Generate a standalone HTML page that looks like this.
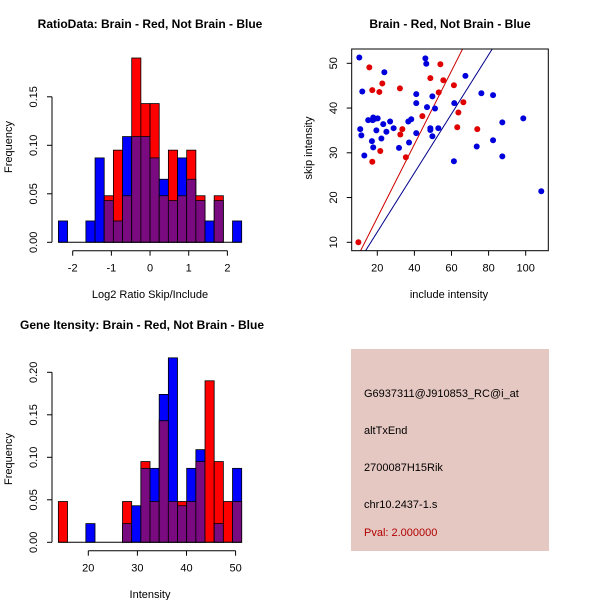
<!DOCTYPE html>
<html><head><meta charset="utf-8"><style>
html,body{margin:0;padding:0;background:#fff;}
svg text{font-family:"Liberation Sans",sans-serif;}
</style></head><body>
<svg id="s" width="600" height="600" xmlns="http://www.w3.org/2000/svg">
<rect x="0" y="0" width="600" height="600" fill="#fff"/>
<text x="150" y="28" font-size="12" font-weight="bold" text-anchor="middle">RatioData: Brain - Red, Not Brain - Blue</text>
<text x="450" y="28" font-size="12" font-weight="bold" text-anchor="middle">Brain - Red, Not Brain - Blue</text>
<text x="142" y="329" font-size="12" font-weight="bold" text-anchor="middle">Gene Itensity: Brain - Red, Not Brain - Blue</text>
<text x="150" y="298" font-size="11" text-anchor="middle">Log2 Ratio Skip/Include</text>
<text x="150" y="598" font-size="11" text-anchor="middle">Intensity</text>
<text x="449" y="298" font-size="11" text-anchor="middle">include intensity</text>
<text transform="translate(12,147) rotate(-90)" font-size="11" text-anchor="middle">Frequency</text>
<text transform="translate(12,459) rotate(-90)" font-size="11" text-anchor="middle">Frequency</text>
<text transform="translate(312,148) rotate(-90)" font-size="11" text-anchor="middle">skip intensity</text>
<g>
<rect x="351" y="349" width="198" height="202" fill="#e6c8c2"/>
<text x="364" y="397" font-size="11">G6937311@J910853_RC@i_at</text>
<text x="364" y="434" font-size="11">altTxEnd</text>
<text x="364" y="471" font-size="11">2700087H15Rik</text>
<text x="364" y="508" font-size="11">chr10.2437-1.s</text>
<text x="364" y="536" font-size="11" fill="#b00000">Pval: 2.000000</text>
</g>
</svg>
<script>
// Ratio histogram data
const ratioBinStart = -2.37;
const ratioBinWidth = 0.237;
const ratioRed  = [0,0,0,0,0,0.048,0.095,0.048,0.19,0.143,0.143,0.048,0.095,0.048,0.095,0.048,0,0.048,0,0];
const ratioBlue = [0.022,0,0,0.022,0.087,0.043,0.022,0.109,0.109,0.109,0.087,0.065,0.043,0.087,0.065,0.043,0.022,0.043,0,0.022];
const ratioXTicks = [-2,-1,0,1,2];
const ratioYTicks = [0,0.05,0.10,0.15];
const ratioYLabels = ["0.00","0.05","0.10","0.15"];
// Intensity histogram data
const intBinStart = 13.9;
const intBinWidth = 1.867;
const intRed  = [0.048,0,0,0,0,0,0,0.048,0,0.095,0.048,0.143,0.048,0.048,0.048,0.095,0.19,0.095,0.048,0.048];
const intBlue = [0,0,0,0.022,0,0,0,0.022,0.043,0.087,0.087,0.174,0.217,0.043,0.087,0.109,0,0.022,0,0.087];
const intXTicks = [20,30,40,50];
const intYTicks = [0,0.05,0.10,0.15,0.20];
const intYLabels = ["0.00","0.05","0.10","0.15","0.20"];
// Scatter data
const redX = [9.8,15.7,17.3,22.7,21.1,32.2,21.6,17.3,33.5,32.4,35.4,44.3,48.6,54.0,53.1,55.6,61.3,66.4,63.7,63.1,73.9];
const redY = [10.0,49.1,44.0,45.5,43.6,44.4,30.4,28.0,35.3,34.1,29.0,38.2,46.7,49.8,43.5,46.2,45.1,41.3,39.0,35.7,35.3];
const blueX = [10.3,11.9,10.8,11.4,13,23.8,15.1,17.8,18.7,20.2,17.5,19.5,17.1,17.8,22.2,23.2,24.9,26.9,28.8,31.7,36.7,38.3,37.1,41.0,41.0,41.0,45.9,46.4,46.8,49.7,48.6,48.6,49.7,51.1,52.9,61.5,67.5,76.1,82.4,87.4,98.7,82.4,73.6,87.4,61.3,108.4];
const blueY = [51.3,43.7,35.3,33.9,29.4,48,37.3,37.9,37.6,37.7,37.3,35,32.6,31.2,33.2,36.4,34.7,37.0,35.5,31.1,37.0,37.5,32.3,43.1,41.1,34.4,51.1,49.9,40.2,42.6,35.5,35.1,33.7,39.9,35.5,41.1,47.2,43.3,42.9,36.8,37.7,32.8,31.4,29.2,28.1,21.4];
const redLine = [0.82,-0.9];
const blueLine = [0.66,-0.9];
const scXTicks = [20,40,60,80,100];
const scYTicks = [10,20,30,40,50];

const NS="http://www.w3.org/2000/svg";
const svg=document.getElementById('s');
function mk(tag,attrs,parent){const e=document.createElementNS(NS,tag);for(const k in attrs)e.setAttribute(k,attrs[k]);(parent||svg).appendChild(e);return e;}

function hist(cfg){
  const g=mk('g',{});
  
  
  const n=cfg.red.length;
  for(let i=0;i<n;i++){
    const x0=cfg.sx(cfg.start+i*cfg.w), x1=cfg.sx(cfg.start+(i+1)*cfg.w);
    const r=cfg.red[i], b=cfg.blue[i];
    const hi=Math.max(r,b), lo=Math.min(r,b);
    if(hi>0){
      const bar=mk('rect',{x:x0,y:cfg.sy(hi),width:x1-x0,height:cfg.sy(0)-cfg.sy(hi),fill:r>b?'#ff0000':'#0000ff',stroke:'#000','stroke-width':0.8},g);
      
      
    }
    if(lo>0){
      const pb=mk('rect',{x:x0,y:cfg.sy(lo),width:x1-x0,height:cfg.sy(0)-cfg.sy(lo),fill:'#7a0a80',stroke:'#000','stroke-width':0.8},g);
      
      
    }
  }
  mk('line',{x1:cfg.sx(cfg.start),x2:cfg.sx(cfg.start+n*cfg.w),y1:cfg.sy(0),y2:cfg.sy(0),stroke:'#000','stroke-width':1},g);
  const ax=mk('g',{});
  
  
  const ya=cfg.axY;
  mk('line',{x1:cfg.sx(cfg.xt[0]),x2:cfg.sx(cfg.xt[cfg.xt.length-1]),y1:ya,y2:ya,stroke:'#000'},ax);
  cfg.xt.forEach(t=>{
    mk('line',{x1:cfg.sx(t),x2:cfg.sx(t),y1:ya,y2:ya+5,stroke:'#000'},ax);
    const tx=mk('text',{x:cfg.sx(t),y:ya+21,'font-size':11,'text-anchor':'middle'},ax);tx.textContent=t;
  });
  const ay=mk('g',{});
  
  
  const xa=52;
  mk('line',{x1:xa,x2:xa,y1:cfg.sy(cfg.yt[0]),y2:cfg.sy(cfg.yt[cfg.yt.length-1]),stroke:'#000'},ay);
  cfg.yt.forEach((t,i)=>{
    mk('line',{x1:xa-5,x2:xa,y1:cfg.sy(t),y2:cfg.sy(t),stroke:'#000'},ay);
    const tx=mk('text',{transform:`translate(37,${cfg.sy(t)}) rotate(-90)`,'font-size':11,'text-anchor':'middle'},ay);tx.textContent=cfg.yl[i];
  });
}
hist({name:'ratio-histogram',red:ratioRed,blue:ratioBlue,start:ratioBinStart,w:ratioBinWidth,
  sx:v=>72.7+(v+2)*38.67, sy:v=>242.3-v*970, xt:ratioXTicks, yt:ratioYTicks, yl:ratioYLabels, axY:250.7});
hist({name:'intensity-histogram',red:intRed,blue:intBlue,start:intBinStart,w:intBinWidth,
  sx:v=>88.3+(v-20)*4.91, sy:v=>542.3-v*850, xt:intXTicks, yt:intYTicks, yl:intYLabels, axY:550.7});

// scatter
const sx=v=>377.3+(v-20)*1.855, sy=v=>242.3-(v-10)*4.475;
const sg=mk('g',{});


const L=351.7,R=548.3,T=49,B=250.7;
const cp=mk('clipPath',{id:'cp'},sg);mk('rect',{x:L,y:T,width:R-L,height:B-T},cp);
[[redLine,'#cc0000','red-fit-line'],[blueLine,'#00008b','blue-fit-line']].forEach(([ln,c,nm])=>{
  const x0=0,x1=120;
  const l=mk('line',{x1:sx(x0),y1:sy(ln[0]*x0+ln[1]),x2:sx(x1),y2:sy(ln[0]*x1+ln[1]),stroke:c,'stroke-width':1,'clip-path':'url(#cp)'},sg);
  
  
});
redX.forEach((x,i)=>{const c=mk('circle',{cx:sx(x),cy:sy(redY[i]),r:3,fill:'#e00000'},sg);
  
  });
blueX.forEach((x,i)=>{const c=mk('circle',{cx:sx(x),cy:sy(blueY[i]),r:3,fill:'#0000dd'},sg);
  
  });
mk('rect',{x:L,y:T,width:R-L,height:B-T,fill:'none',stroke:'#000'},sg);
scXTicks.forEach(t=>{mk('line',{x1:sx(t),x2:sx(t),y1:B,y2:B+5,stroke:'#000'},sg);
  const tx=mk('text',{x:sx(t),y:B+21,'font-size':11,'text-anchor':'middle'},sg);tx.textContent=t;});
scYTicks.forEach(t=>{mk('line',{x1:L-5,x2:L,y1:sy(t),y2:sy(t),stroke:'#000'},sg);
  const tx=mk('text',{transform:`translate(337,${sy(t)}) rotate(-90)`,'font-size':11,'text-anchor':'middle'},sg);tx.textContent=t;});
</script>
</body></html>
